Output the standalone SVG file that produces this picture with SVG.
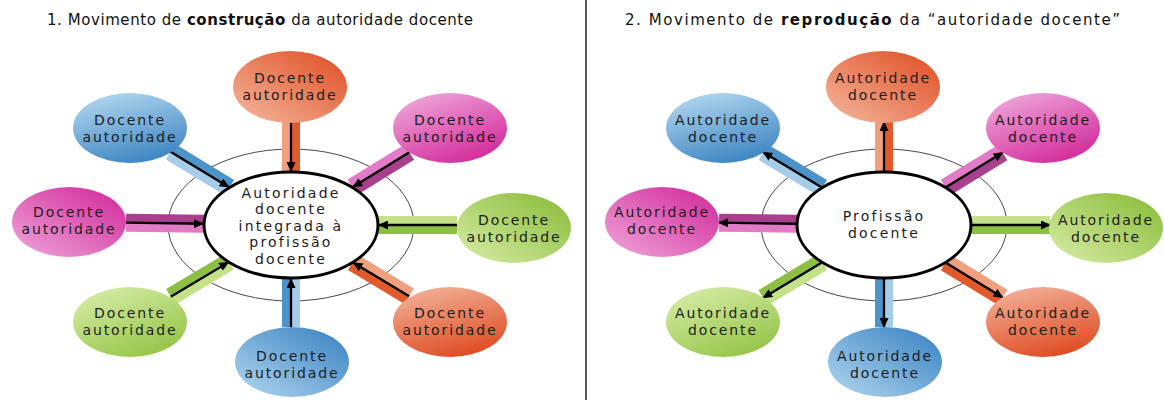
<svg xmlns="http://www.w3.org/2000/svg" width="1164" height="400" viewBox="0 0 1164 400">
<defs>
<linearGradient id="gOr1" x1="0" y1="1" x2="1" y2="0"><stop offset="0" stop-color="#F5B8A0"/><stop offset="1" stop-color="#DE4C20"/></linearGradient>
<linearGradient id="gOr2" x1="0.3" y1="0" x2="0.7" y2="1"><stop offset="0" stop-color="#F2AE95"/><stop offset="1" stop-color="#DE4A20"/></linearGradient>
<linearGradient id="gBl1" x1="0.3" y1="0" x2="0.7" y2="1"><stop offset="0" stop-color="#AFD5EE"/><stop offset="1" stop-color="#3A83C2"/></linearGradient>
<linearGradient id="gBl2" x1="0" y1="1" x2="1" y2="0"><stop offset="0" stop-color="#B3D7EF"/><stop offset="1" stop-color="#3580C1"/></linearGradient>
<linearGradient id="gMg1" x1="0" y1="1" x2="1" y2="0"><stop offset="0" stop-color="#EEA6DA"/><stop offset="1" stop-color="#D22598"/></linearGradient>
<linearGradient id="gMg2" x1="0.2" y1="0" x2="0.8" y2="1"><stop offset="0" stop-color="#EEA6DA"/><stop offset="1" stop-color="#D22598"/></linearGradient>
<linearGradient id="gGr1" x1="0.2" y1="0" x2="0.8" y2="1"><stop offset="0" stop-color="#D6ECA6"/><stop offset="1" stop-color="#92C343"/></linearGradient>
<linearGradient id="gGr2" x1="0" y1="1" x2="1" y2="0"><stop offset="0" stop-color="#D8EDA8"/><stop offset="1" stop-color="#86BA34"/></linearGradient>
<marker id="ah" markerWidth="10" markerHeight="9" refX="9" refY="4.5" orient="auto" markerUnits="userSpaceOnUse"><path d="M0,0 L10,4.5 L0,9 z" fill="#000"/></marker>
</defs>
<style>
.t{font-family:"DejaVu Sans","Noto Sans",sans-serif;fill:#1c1c1c;}
.ttl{font-size:15px;fill:#111;}
.n{font-size:14px;letter-spacing:1.9px;text-anchor:middle;}
.c{font-size:14px;letter-spacing:2.2px;text-anchor:middle;}
.outer{fill:none;stroke:#333;stroke-width:0.9;}
.inner{fill:#fff;stroke:#000;stroke-width:3;}
.arr{stroke:#000;stroke-width:2.3;fill:none;marker-end:url(#ah);}
.oL{fill:#F0A07F}.oD{fill:#E05A2D}
.bL{fill:#A6CDE8}.bD{fill:#4C93CA}
.mL{fill:#E37CC8}.mD{fill:#A8408E}
.gL{fill:#C5E28A}.gD{fill:#8DBF45}
</style>
<rect width="1164" height="400" fill="#fff"/>
<line x1="586" y1="0" x2="586" y2="400" stroke="#222" stroke-width="1.5"/>
<text class="t ttl" x="47" y="25" textLength="426" lengthAdjust="spacing">1. Movimento de <tspan font-weight="bold">construção</tspan> da autoridade docente</text>
<text class="t ttl" x="625" y="25" textLength="495" lengthAdjust="spacing">2. Movimento de <tspan font-weight="bold">reprodução</tspan> da “autoridade docente”</text>

<g id="connectors">
<g id="left-connectors" transform="translate(291,225)">
<ellipse class="outer" cx="0" cy="0" rx="123" ry="76"/>
<g transform="rotate(-90)"><rect class="oL" x="53" y="-9" width="50" height="9"/><rect class="oD" x="53" y="0" width="50" height="9"/><line class="arr" x1="103" y1="0" x2="54" y2="0"/></g>
<g transform="rotate(-31.6)"><rect class="mL" x="72" y="-9" width="67" height="9"/><rect class="mD" x="72" y="0" width="67" height="9"/><line class="arr" x1="139" y1="0" x2="73" y2="0"/></g>
<g transform="rotate(0)"><rect class="gL" x="87" y="-9" width="79" height="9"/><rect class="gD" x="87" y="0" width="79" height="9"/><line class="arr" x1="166" y1="0" x2="88" y2="0"/></g>
<g transform="rotate(31.1)"><rect class="oL" x="72" y="-9" width="66" height="9"/><rect class="oD" x="72" y="0" width="66" height="9"/><line class="arr" x1="138" y1="0" x2="73" y2="0"/></g>
<g transform="rotate(90)"><rect class="bL" x="53" y="-9" width="49" height="9"/><rect class="bD" x="53" y="0" width="49" height="9"/><line class="arr" x1="102" y1="0" x2="54" y2="0"/></g>
<g transform="rotate(149.2)"><rect class="gL" x="72" y="-9" width="68" height="9"/><rect class="gD" x="72" y="0" width="68" height="9"/><line class="arr" x1="140" y1="0" x2="73" y2="0"/></g>
<g transform="rotate(180.8)"><rect class="mL" x="87" y="-9" width="78" height="9"/><rect class="mD" x="87" y="0" width="78" height="9"/><line class="arr" x1="165" y1="0" x2="88" y2="0"/></g>
<g transform="rotate(-148.7)"><rect class="bL" x="72" y="-9" width="69" height="9"/><rect class="bD" x="72" y="0" width="69" height="9"/><line class="arr" x1="141" y1="0" x2="73" y2="0"/></g>
</g>
<g id="right-connectors" transform="translate(884,225)">
<ellipse class="outer" cx="0" cy="0" rx="123" ry="76"/>
<g transform="rotate(-90)"><rect class="oL" x="53" y="-9" width="50" height="9"/><rect class="oD" x="53" y="0" width="50" height="9"/><line class="arr" x1="54" y1="0" x2="103" y2="0"/></g>
<g transform="rotate(-31.4)"><rect class="mL" x="72" y="-9" width="67" height="9"/><rect class="mD" x="72" y="0" width="67" height="9"/><line class="arr" x1="73" y1="0" x2="139" y2="0"/></g>
<g transform="rotate(0)"><rect class="gL" x="87" y="-9" width="79" height="9"/><rect class="gD" x="87" y="0" width="79" height="9"/><line class="arr" x1="88" y1="0" x2="166" y2="0"/></g>
<g transform="rotate(31.4)"><rect class="oL" x="72" y="-9" width="67" height="9"/><rect class="oD" x="72" y="0" width="67" height="9"/><line class="arr" x1="73" y1="0" x2="139" y2="0"/></g>
<g transform="rotate(90)"><rect class="bL" x="53" y="-9" width="49" height="9"/><rect class="bD" x="53" y="0" width="49" height="9"/><line class="arr" x1="54" y1="0" x2="102" y2="0"/></g>
<g transform="rotate(148.9)"><rect class="gL" x="72" y="-9" width="69" height="9"/><rect class="gD" x="72" y="0" width="69" height="9"/><line class="arr" x1="73" y1="0" x2="141" y2="0"/></g>
<g transform="rotate(180.8)"><rect class="mL" x="87" y="-9" width="78" height="9"/><rect class="mD" x="87" y="0" width="78" height="9"/><line class="arr" x1="88" y1="0" x2="165" y2="0"/></g>
<g transform="rotate(-148.9)"><rect class="bL" x="72" y="-9" width="69" height="9"/><rect class="bD" x="72" y="0" width="69" height="9"/><line class="arr" x1="73" y1="0" x2="141" y2="0"/></g>
</g>
</g>

<g id="L-center"><ellipse class="inner" cx="291" cy="225" rx="87" ry="53"/>
<text class="t c" x="291" y="197.5">Autoridade</text><text class="t c" x="291" y="214">docente</text><text class="t c" x="291" y="230.5">integrada à</text><text class="t c" x="291" y="247">profissão</text><text class="t c" x="291" y="263.5">docente</text></g>
<g id="L-top"><ellipse cx="290" cy="87" rx="57" ry="36" fill="url(#gOr1)"/><text class="t n" x="290" y="83">Docente</text><text class="t n" x="290" y="100">autoridade</text></g>
<g id="L-topright"><ellipse cx="450" cy="128" rx="57" ry="35" fill="url(#gMg2)"/><text class="t n" x="450" y="125">Docente</text><text class="t n" x="450" y="142">autoridade</text></g>
<g id="L-right"><ellipse cx="514" cy="228" rx="57" ry="35" fill="url(#gGr2)"/><text class="t n" x="514" y="225">Docente</text><text class="t n" x="514" y="242">autoridade</text></g>
<g id="L-bottomright"><ellipse cx="450" cy="322" rx="57" ry="35" fill="url(#gOr2)"/><text class="t n" x="450" y="318">Docente</text><text class="t n" x="450" y="335">autoridade</text></g>
<g id="L-bottom"><ellipse cx="292" cy="362" rx="57" ry="35" fill="url(#gBl2)"/><text class="t n" x="292" y="361">Docente</text><text class="t n" x="292" y="378">autoridade</text></g>
<g id="L-bottomleft"><ellipse cx="130" cy="322" rx="57" ry="35" fill="url(#gGr1)"/><text class="t n" x="130" y="318">Docente</text><text class="t n" x="130" y="335">autoridade</text></g>
<g id="L-left"><ellipse cx="69" cy="222" rx="57" ry="35" fill="url(#gMg1)"/><text class="t n" x="69" y="217">Docente</text><text class="t n" x="69" y="234">autoridade</text></g>
<g id="L-topleft"><ellipse cx="130" cy="128" rx="57" ry="35" fill="url(#gBl1)"/><text class="t n" x="130" y="125">Docente</text><text class="t n" x="130" y="142">autoridade</text></g>

<g id="R-center"><ellipse class="inner" cx="884" cy="225" rx="87" ry="53"/>
<text class="t c" x="884" y="221">Profissão</text><text class="t c" x="884" y="238">docente</text></g>
<g id="R-top"><ellipse cx="883" cy="87" rx="57" ry="36" fill="url(#gOr1)"/><text class="t n" x="883" y="83">Autoridade</text><text class="t n" x="883" y="100">docente</text></g>
<g id="R-topright"><ellipse cx="1043" cy="128" rx="57" ry="35" fill="url(#gMg2)"/><text class="t n" x="1043" y="125">Autoridade</text><text class="t n" x="1043" y="142">docente</text></g>
<g id="R-right"><ellipse cx="1106" cy="228" rx="57" ry="35" fill="url(#gGr2)"/><text class="t n" x="1106" y="225">Autoridade</text><text class="t n" x="1106" y="242">docente</text></g>
<g id="R-bottomright"><ellipse cx="1043" cy="322" rx="57" ry="35" fill="url(#gOr2)"/><text class="t n" x="1043" y="318">Autoridade</text><text class="t n" x="1043" y="335">docente</text></g>
<g id="R-bottom"><ellipse cx="885" cy="362" rx="57" ry="35" fill="url(#gBl2)"/><text class="t n" x="885" y="361">Autoridade</text><text class="t n" x="885" y="378">docente</text></g>
<g id="R-bottomleft"><ellipse cx="723" cy="322" rx="57" ry="35" fill="url(#gGr1)"/><text class="t n" x="723" y="318">Autoridade</text><text class="t n" x="723" y="335">docente</text></g>
<g id="R-left"><ellipse cx="662" cy="222" rx="57" ry="35" fill="url(#gMg1)"/><text class="t n" x="662" y="217">Autoridade</text><text class="t n" x="662" y="234">docente</text></g>
<g id="R-topleft"><ellipse cx="723" cy="128" rx="57" ry="35" fill="url(#gBl1)"/><text class="t n" x="723" y="125">Autoridade</text><text class="t n" x="723" y="142">docente</text></g>
</svg>
